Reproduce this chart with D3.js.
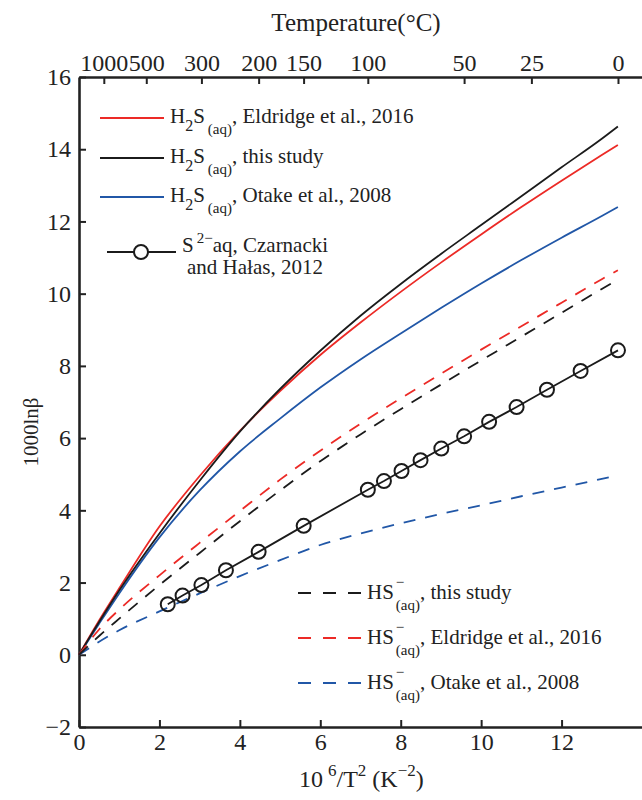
<!DOCTYPE html>
<html>
<head>
<meta charset="utf-8">
<script src="https://cdn.jsdelivr.net/npm/d3@7/dist/d3.min.js"></script>
<style>
  body { margin: 0; background: #fff; }
  svg text { font-family: "Liberation Serif", "Times New Roman", serif; fill: #222; white-space: pre; }
</style>
</head>
<body>
<div id="chart"></div>
<script>
// x = 10^6/T^2 grid used for the fractionation curves
const xGrid = [0, 0.5, 1, 2, 3, 4, 5, 6, 7, 8, 9, 10, 11, 12, 13, 13.4];

// H2S(aq) curves
const h2sThis   = [0, 0.91, 1.78, 3.36, 4.82, 6.18, 7.36, 8.42, 9.39, 10.27, 11.1, 11.9, 12.7, 13.5, 14.29, 14.63];
const h2sEld    = [0, 0.95, 1.84, 3.55, 4.95, 6.2, 7.3, 8.3, 9.2, 10.05, 10.86, 11.64, 12.4, 13.13, 13.84, 14.12];
const h2sOtake  = [0, 0.86, 1.7, 3.25, 4.55, 5.63, 6.54, 7.4, 8.18, 8.9, 9.6, 10.28, 10.93, 11.55, 12.15, 12.4];

// HS-(aq) curves
const hsThis    = [0, 0.52, 1.0, 1.93, 2.82, 3.7, 4.55, 5.36, 6.1, 6.8, 7.48, 8.15, 8.81, 9.47, 10.13, 10.39];
const hsEld     = [0, 0.7, 1.25, 2.2, 3.1, 3.98, 4.85, 5.65, 6.4, 7.1, 7.78, 8.45, 9.1, 9.75, 10.4, 10.65];
const hsOtake   = [0, 0.36, 0.68, 1.2, 1.7, 2.18, 2.62, 3.04, 3.36, 3.64, 3.9, 4.14, 4.39, 4.63, 4.87, 4.97];

// S2- aq, Czarnacki and Halas 2012 (points)
const s2X = [2.207, 2.575, 3.044, 3.654, 4.467, 5.587, 7.183, 7.583, 8.020, 8.493, 9.010, 9.577, 10.198, 10.882, 11.637, 12.473, 13.403];
const s2Y = [1.40, 1.64, 1.93, 2.34, 2.85, 3.57, 4.57, 4.81, 5.09, 5.39, 5.71, 6.05, 6.45, 6.86, 7.34, 7.86, 8.43];

// axes
const xTicks = [0, 2, 4, 6, 8, 10, 12];
const yTicks = [-2, 0, 2, 4, 6, 8, 10, 12, 14, 16];
const tempTicks = [1000, 500, 300, 200, 150, 100, 50, 25, 0];

const RED = '#ec2a26', BLACK = '#1b1b1b', BLUE = '#2157a7';

const width = 642, height = 800,
  margin = {left: 79, right: 0, top: 77, bottom: 73};

const svg = d3.select('#chart').append('svg')
  .attr('width', width)
  .attr('height', height);

const x = d3.scaleLinear().domain([0, 14]).range([margin.left, width - margin.right]);
const y = d3.scaleLinear().domain([-2, 16]).range([height - margin.bottom, margin.top]);

function styleAxis(g) {
  g.select('.domain').attr('stroke', '#222').attr('stroke-width', 2.6);
  g.selectAll('.tick line').attr('stroke', '#222').attr('stroke-width', 2);
  g.selectAll('.tick text').style('font-size', '24px').attr('fill', '#222');
}

// bottom axis
svg.append('g')
  .attr('transform', 'translate(0,' + y(-2) + ')')
  .call(d3.axisBottom(x).tickValues(xTicks).tickSizeInner(-7).tickSizeOuter(0).tickPadding(6).tickFormat(d3.format('d')))
  .call(styleAxis);

// left axis
svg.append('g')
  .attr('transform', 'translate(' + x(0) + ',0)')
  .call(d3.axisLeft(y).tickValues(yTicks).tickSizeInner(-7).tickSizeOuter(0).tickPadding(8)
    .tickFormat(d => d < 0 ? '\u2212' + Math.abs(d) : d))
  .call(styleAxis);

// top axis in temperature
const tempPos = tempTicks.map(t => 1e6 / Math.pow(t + 273.15, 2));
svg.append('g')
  .attr('transform', 'translate(0,' + y(16) + ')')
  .call(d3.axisTop(x).tickValues(tempPos).tickSizeInner(-7).tickSizeOuter(0).tickPadding(6)
    .tickFormat((d, i) => tempTicks[i]))
  .call(styleAxis);

// axis titles
svg.append('text')
  .attr('x', 356).attr('y', 31)
  .attr('text-anchor', 'middle')
  .style('font-size', '25px')
  .text('Temperature(\u00b0C)');

svg.append('text')
  .attr('transform', 'translate(38,432) rotate(-90)')
  .attr('text-anchor', 'middle')
  .style('font-size', '21px')
  .text('1000ln\u03b2');

// rich text helper: pieces placed one after another, "stack" puts a piece under the previous one
function richText(g, x0, y0, parts) {
  let cx = x0, lastX = x0;
  parts.forEach(p => {
    const px = p.stack ? lastX : cx + (p.dx || 0);
    const t = g.append('text')
      .attr('x', px)
      .attr('y', y0 + (p.dy || 0))
      .style('font-size', (p.size || 20) + 'px')
      .text(p.t);
    const w = t.node().getComputedTextLength();
    lastX = px;
    cx = Math.max(cx, px + w);
  });
}

richText(svg, 299, 787, [
  {t: '10', size: 24},
  {t: '6', size: 17, dy: -11, dx: 5},
  {t: '/T', size: 24},
  {t: '2', size: 17, dy: -11},
  {t: ' (K', size: 24},
  {t: '\u22122', size: 17, dy: -11},
  {t: ')', size: 24}
]);

// curves
const line = d3.line()
  .x(d => x(d[0]))
  .y(d => y(d[1]))
  .curve(d3.curveMonotoneX);

const series = [
  {vals: h2sEld, color: RED, dash: null},
  {vals: h2sOtake, color: BLUE, dash: null},
  {vals: h2sThis, color: BLACK, dash: null},
  {vals: hsOtake, color: BLUE, dash: '12,10'},
  {vals: hsEld, color: RED, dash: '12,10'},
  {vals: hsThis, color: BLACK, dash: '12,10'}
];

series.forEach(s => {
  svg.append('path')
    .datum(xGrid.map((d, i) => [d, s.vals[i]]))
    .attr('d', line)
    .attr('fill', 'none')
    .attr('stroke', s.color)
    .attr('stroke-width', 1.8)
    .attr('stroke-dasharray', s.dash);
});

const s2 = s2X.map((d, i) => [d, s2Y[i]]);
svg.append('path')
  .datum(s2)
  .attr('d', d3.line().x(d => x(d[0])).y(d => y(d[1])))
  .attr('fill', 'none')
  .attr('stroke', BLACK)
  .attr('stroke-width', 1.8);

svg.selectAll('.pt')
  .data(s2)
  .enter()
  .append('circle')
    .attr('class', 'pt')
    .attr('cx', d => x(d[0]))
    .attr('cy', d => y(d[1]))
    .attr('r', 7)
    .attr('fill', 'none')
    .attr('stroke', BLACK)
    .attr('stroke-width', 2);

// legend, top left
const legTop = [
  {color: RED, y: 118, label: ', Eldridge et al., 2016'},
  {color: BLACK, y: 158, label: ', this study'},
  {color: BLUE, y: 197, label: ', Otake et al., 2008'}
];
legTop.forEach(l => {
  svg.append('line')
    .attr('x1', 100).attr('x2', 164).attr('y1', l.y).attr('y2', l.y)
    .attr('stroke', l.color).attr('stroke-width', 1.8);
  richText(svg, 170, l.y + 5, [
    {t: 'H', size: 21},
    {t: '2', size: 16, dy: 8},
    {t: 'S', size: 21},
    {t: '(aq)', size: 15, dy: 11, dx: 3},
    {t: l.label, size: 21}
  ]);
});

// S2- legend entry
svg.append('line')
  .attr('x1', 107).attr('x2', 176).attr('y1', 252).attr('y2', 252)
  .attr('stroke', BLACK).attr('stroke-width', 1.8);
svg.append('circle')
  .attr('cx', 141).attr('cy', 252).attr('r', 7)
  .attr('fill', '#fff').attr('stroke', BLACK).attr('stroke-width', 2);
richText(svg, 182, 252, [
  {t: 'S', size: 21},
  {t: '2\u2212', size: 15, dy: -9, dx: 3},
  {t: 'aq, Czarnacki', size: 21}
]);
svg.append('text')
  .attr('x', 187).attr('y', 274)
  .style('font-size', '21px')
  .text('and Ha\u0142as, 2012');

// legend, bottom right
const legBot = [
  {color: BLACK, y: 593, label: ', this study'},
  {color: RED, y: 638, label: ', Eldridge et al., 2016'},
  {color: BLUE, y: 683, label: ', Otake et al., 2008'}
];
legBot.forEach(l => {
  svg.append('line')
    .attr('x1', 298).attr('x2', 362).attr('y1', l.y).attr('y2', l.y)
    .attr('stroke', l.color).attr('stroke-width', 1.8)
    .attr('stroke-dasharray', '13,12');
  richText(svg, 367, l.y + 6, [
    {t: 'HS', size: 21},
    {t: '\u2212', size: 15, dy: -12, dx: 2},
    {t: '(aq)', size: 15, stack: true, dy: 11},
    {t: l.label, size: 21}
  ]);
});
</script>
</body>
</html>
